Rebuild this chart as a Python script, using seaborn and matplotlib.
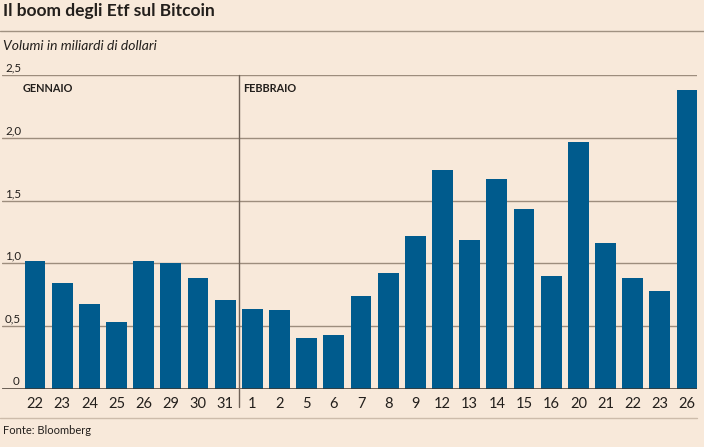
import matplotlib
matplotlib.use("Agg")
import matplotlib.pyplot as plt
import matplotlib.transforms as mtrans
import seaborn as sns
import pandas as pd

days = ["22", "23", "24", "25", "26", "29", "30", "31",
        "1", "2", "5", "6", "7", "8", "9", "12", "13", "14", "15", "16",
        "20", "21", "22", "23", "26"]
months = ["Gen"] * 8 + ["Feb"] * 17
values = [1.02, 0.84, 0.68, 0.53, 1.02, 1.00, 0.88, 0.71,
          0.64, 0.63, 0.41, 0.43, 0.74, 0.92, 1.22, 1.74, 1.19, 1.67,
          1.43, 0.90, 1.97, 1.16, 0.88, 0.78, 2.38]
yticks = [0, 0.5, 1.0, 1.5, 2.0, 2.5]
ytick_labels = ["0", "0,5", "1,0", "1,5", "2,0", "2,5"]
month_labels = ["GENNAIO", "FEBBRAIO"]

title = "Il boom degli Etf sul Bitcoin"
subtitle = "Volumi in miliardi di dollari"
source = "Fonte: Bloomberg"

BG = "#f8e9da"
BAR = "#005b8d"
GRID = "#9d8d7d"
ZERO = "#3f362e"
TXT = "#231f1c"

sns.set_theme(style="white")
plt.rcParams["font.family"] = ["Lato", "DejaVu Sans"]

W, H = 704, 447
fig = plt.figure(figsize=(W / 100, H / 100), dpi=100, facecolor=BG)

ax_left, ax_right = 2, 697
ax_top, ax_bot = 75, 389
ax = fig.add_axes([ax_left / W, (H - ax_bot) / H, (ax_right - ax_left) / W, (ax_bot - ax_top) / H])
ax.set_facecolor(BG)

df = pd.DataFrame({"pos": list(range(len(values))), "day": days, "value": values})
sns.barplot(data=df, x="pos", y="value", color=BAR, width=0.77, saturation=1,
            ax=ax, native_scale=True, edgecolor="none")

n = len(values)
upp = (n - 1) / (687 - 35)
ax.set_xlim(-(35 - ax_left) * upp, (n - 1) + (ax_right - 687) * upp)
ax.set_ylim(0, 2.5)

for s in ax.spines.values():
    s.set_visible(False)
ax.set_yticks([])
ax.set_xticks(range(n))
ax.set_xticklabels(days, fontsize=10.5, color=TXT)
ax.tick_params(axis="x", length=0, pad=6)
ax.set_xlabel("")
ax.set_ylabel("")

for yv in yticks[1:]:
    ax.axhline(yv, color=GRID, lw=1.0, zorder=0)
ax.axhline(0, color=ZERO, lw=1.8, zorder=3)

# y labels above the grid lines
tr = mtrans.blended_transform_factory(fig.transFigure, ax.transData)
for yv, lab in zip(yticks, ytick_labels):
    xpx = 13 if lab == "0" else 5
    ax.text(xpx / W, yv + 0.012, lab, transform=tr, fontsize=8.3, color=TXT,
            ha="left", va="bottom", clip_on=False)

# month separator
sep_x = 7.5
ax.plot([sep_x, sep_x], [2.5, -0.14], color="#6f6257", lw=1.0,
        transform=ax.transData, clip_on=False, zorder=4)

ax.text(-0.5 + 0.03, 2.39, month_labels[0], fontsize=7.8, fontweight="bold",
        color=TXT, ha="left", va="center")
ax.text(sep_x + 0.15, 2.39, month_labels[1], fontsize=7.8, fontweight="bold",
        color=TXT, ha="left", va="center")

# header
fig.text(3 / W, 1 - 11 / H, title, fontsize=12.5, fontweight="bold", color=TXT,
         ha="left", va="center")
fig.add_artist(plt.Line2D([0, 1], [1 - 31 / H, 1 - 31 / H], color="#a09282", lw=1.0))
fig.text(3 / W, 1 - 46 / H, subtitle, fontsize=10, style="italic", color=TXT,
         ha="left", va="center")

# footer
fig.add_artist(plt.Line2D([0, ax_right / W], [1 - 418 / H, 1 - 418 / H], color="#cdbcab", lw=1.0))
fig.text(3 / W, 1 - 430 / H, source, fontsize=8, color=TXT, ha="left", va="center")

fig.savefig("out.png", dpi=100, facecolor=BG)
